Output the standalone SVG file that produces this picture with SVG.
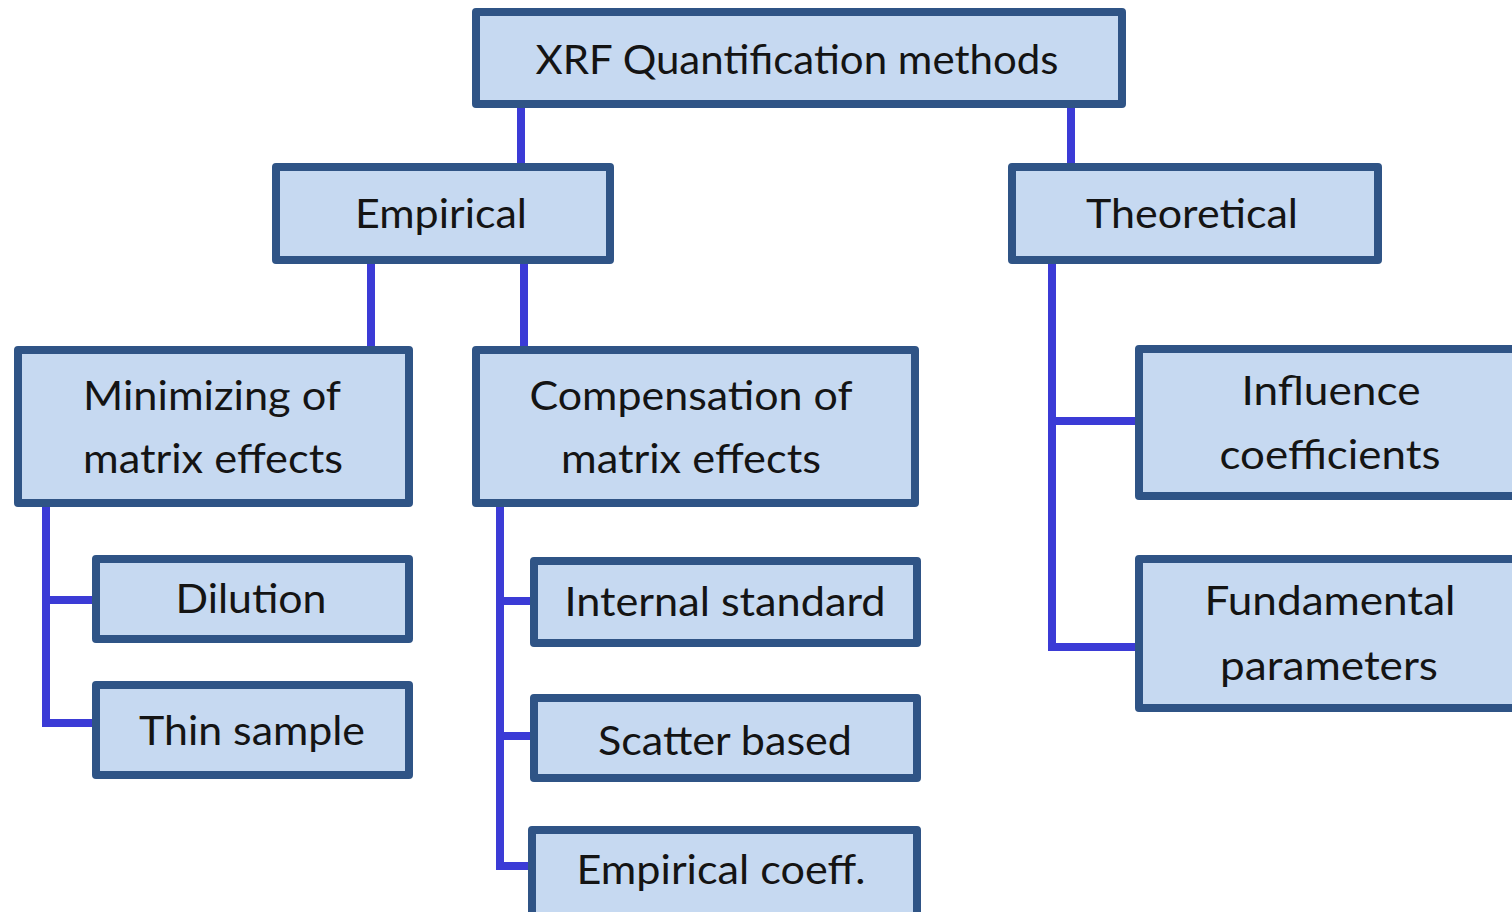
<svg xmlns="http://www.w3.org/2000/svg" width="1512" height="912" viewBox="0 0 1512 912">
<style>
.box{fill:#C6D9F1;stroke:#2F5486;stroke-width:8;stroke-linejoin:round}
.t{font-family:Lato,"Open Sans",sans-serif;font-size:40px;fill:#141414;text-anchor:middle}
.c{fill:none;stroke:#3B3BD6;stroke-width:8;stroke-linejoin:miter}
</style>
<rect width="1512" height="912" fill="#fff"/>
<g id="connectors">
<path class="c" d="M521 106V165M1071 106V165"/>
<path class="c" d="M371 262V348M524 262V348"/>
<path class="c" d="M46 505V723H94M46 600H94"/>
<path class="c" d="M500 505V866H532M500 601H532M500 736H532"/>
<path class="c" d="M1052 262V647H1137M1052 421H1137"/>
</g>
<g id="n-root"><rect class="box" x="476" y="12" width="646" height="92"/><text class="t" x="797" y="74" textLength="523" lengthAdjust="spacingAndGlyphs">XRF Quantification methods</text></g>
<g id="n-empirical"><rect class="box" x="276" y="167" width="334" height="93"/><text class="t" x="441" y="228" textLength="172" lengthAdjust="spacingAndGlyphs">Empirical</text></g>
<g id="n-theoretical"><rect class="box" x="1012" y="167" width="366" height="93"/><text class="t" x="1192" y="228" textLength="212" lengthAdjust="spacingAndGlyphs">Theoretical</text></g>
<g id="n-minimizing"><rect class="box" x="18" y="350" width="391" height="153"/><text class="t" x="212" y="410" textLength="258" lengthAdjust="spacingAndGlyphs">Minimizing of</text><text class="t" x="213" y="473" textLength="260" lengthAdjust="spacingAndGlyphs">matrix effects</text></g>
<g id="n-compensation"><rect class="box" x="476" y="350" width="439" height="153"/><text class="t" x="691" y="410" textLength="323" lengthAdjust="spacingAndGlyphs">Compensation of</text><text class="t" x="691" y="473" textLength="260" lengthAdjust="spacingAndGlyphs">matrix effects</text></g>
<g id="n-influence"><rect class="box" x="1139" y="349" width="400" height="147"/><text class="t" x="1331" y="405" textLength="179" lengthAdjust="spacingAndGlyphs">Influence</text><text class="t" x="1330" y="469" textLength="221" lengthAdjust="spacingAndGlyphs">coefficients</text></g>
<g id="n-fundamental"><rect class="box" x="1139" y="559" width="400" height="149"/><text class="t" x="1330" y="615" textLength="251" lengthAdjust="spacingAndGlyphs">Fundamental</text><text class="t" x="1329" y="680" textLength="218" lengthAdjust="spacingAndGlyphs">parameters</text></g>
<g id="n-dilution"><rect class="box" x="96" y="559" width="313" height="80"/><text class="t" x="251" y="613" textLength="151" lengthAdjust="spacingAndGlyphs">Dilution</text></g>
<g id="n-thin"><rect class="box" x="96" y="685" width="313" height="90"/><text class="t" x="252" y="745" textLength="226" lengthAdjust="spacingAndGlyphs">Thin sample</text></g>
<g id="n-internal"><rect class="box" x="534" y="561" width="383" height="82"/><text class="t" x="725" y="616" textLength="321" lengthAdjust="spacingAndGlyphs">Internal standard</text></g>
<g id="n-scatter"><rect class="box" x="534" y="698" width="383" height="80"/><text class="t" x="725" y="755" textLength="254" lengthAdjust="spacingAndGlyphs">Scatter based</text></g>
<g id="n-empcoeff"><rect class="box" x="532" y="830" width="385" height="100"/><text class="t" x="721" y="884" textLength="289" lengthAdjust="spacingAndGlyphs">Empirical coeff.</text></g>
</svg>
